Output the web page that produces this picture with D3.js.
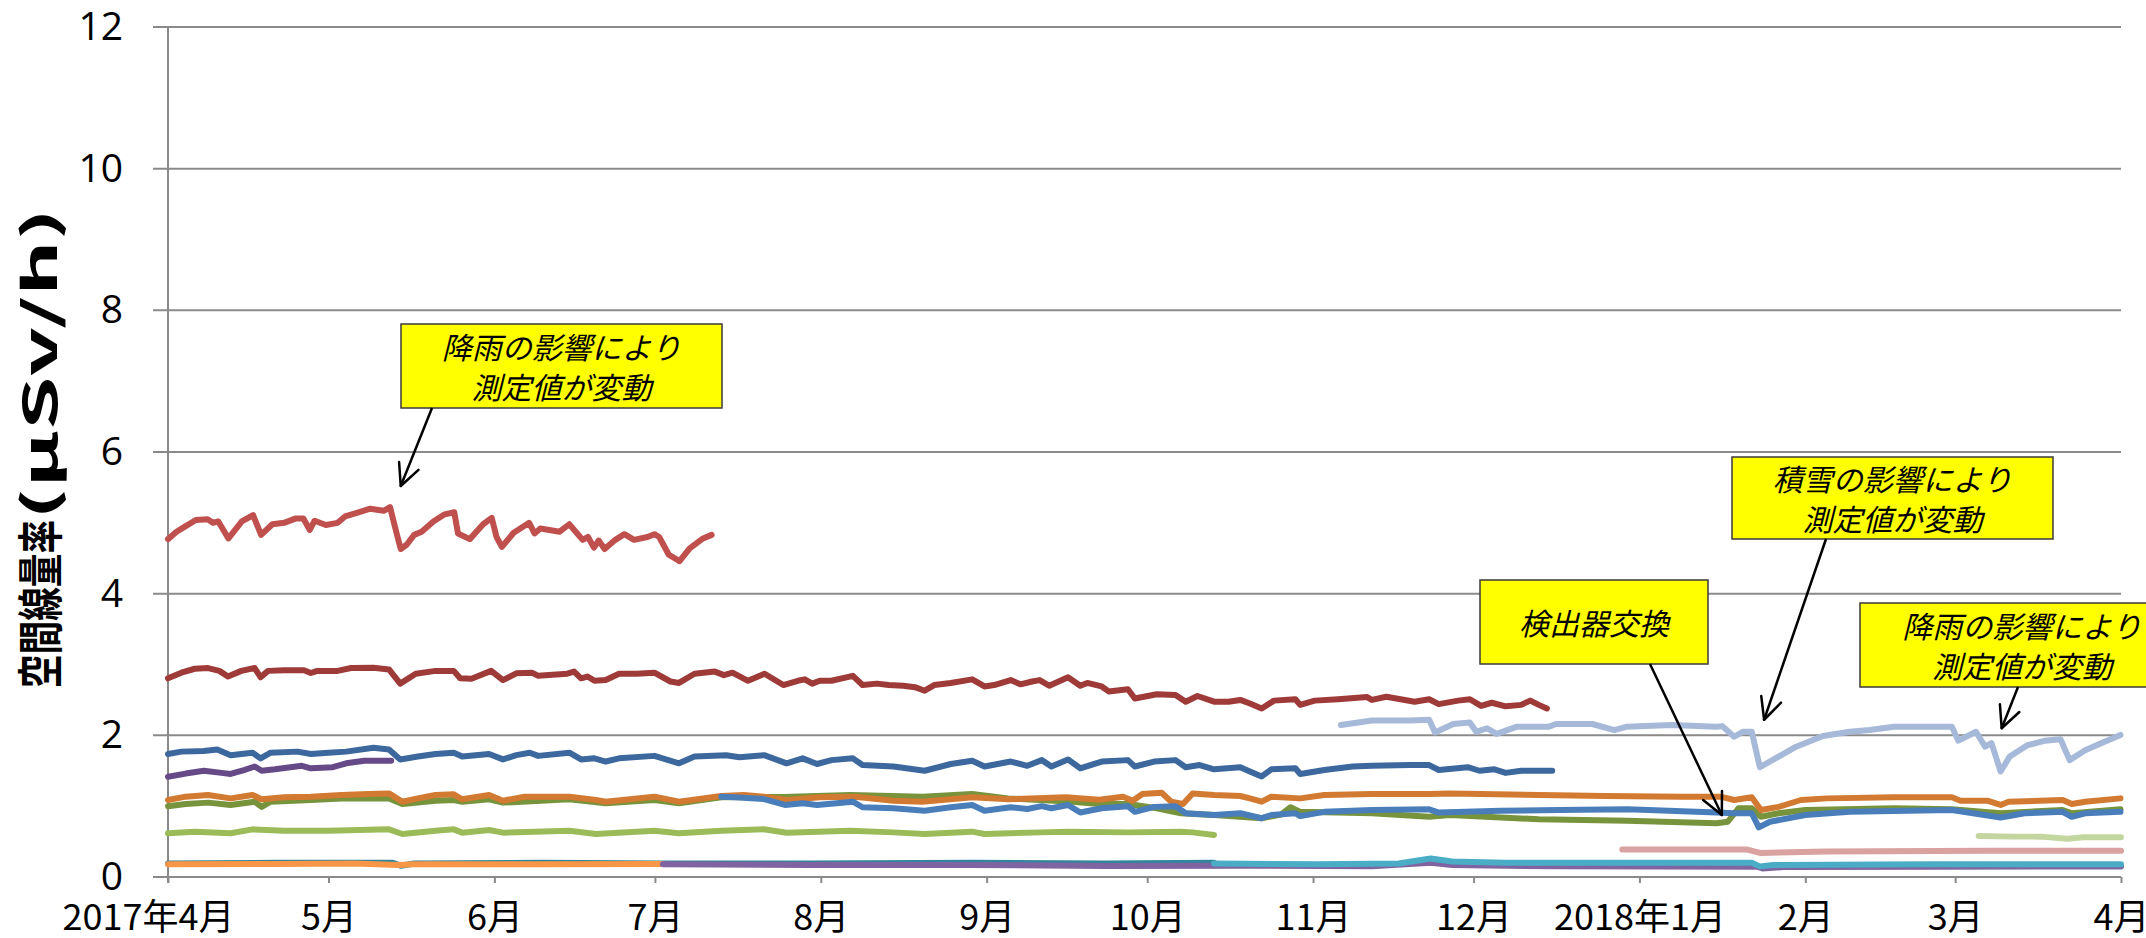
<!DOCTYPE html>
<html>
<head>
<meta charset="utf-8">
<script src="https://cdn.jsdelivr.net/npm/d3@7"></script>
<style>
  body { margin: 0; background: #fff; }
  svg { display: block; }
</style>
</head>
<body>
<div id="chart"></div>
<script>
const w = 2146;
const h = 938;

// ---- data: [days since 2017-04-01, µSv/h] ----
const redHigh = [[0,4.77],[1.6,4.875],[3,4.94],[5.2,5.04],[7.4,5.05],[8.4,5.0],[9.4,5.02],[11.3,4.78],[13.8,5.02],[15.9,5.11],[17.4,4.83],[19.5,4.98],[21.7,5.0],[23.8,5.06],[25.3,5.06],[26.5,4.9],[27.4,5.03],[29.5,4.97],[31.7,5.0],[33.1,5.09],[35.3,5.14],[37.8,5.2],[40.3,5.17],[41.5,5.22],[42.8,4.83],[43.5,4.63],[44.6,4.69],[46,4.83],[47.4,4.875],[49.6,5.02],[51.7,5.12],[53.5,5.15],[54.2,4.85],[56.4,4.77],[58.9,4.98],[60.5,5.07],[61.4,4.8],[62.4,4.66],[64.6,4.86],[67.5,5.0],[68.5,4.85],[69.6,4.92],[73.2,4.875],[75,4.98],[77.5,4.76],[78.5,4.8],[79.6,4.65],[80.5,4.75],[81.6,4.63],[83.6,4.76],[85.3,4.84],[87.1,4.76],[89.6,4.8],[90.9,4.84],[91.8,4.8],[93.6,4.55],[95.6,4.46],[97.5,4.64],[100,4.78],[101.6,4.83]];

const darkRed = [[0,2.805],[2.5,2.885],[5,2.94],[7.5,2.95],[9.6,2.91],[11.2,2.83],[13.7,2.91],[16.2,2.95],[17.3,2.82],[18.7,2.91],[21.7,2.92],[25.4,2.92],[26.7,2.88],[27.9,2.91],[31.7,2.91],[34.2,2.95],[38.4,2.955],[41.3,2.93],[43.4,2.73],[46.3,2.87],[50,2.91],[53.4,2.91],[54.6,2.805],[56.7,2.8],[60.4,2.91],[62.6,2.78],[65.1,2.875],[68,2.885],[69.2,2.84],[74.6,2.87],[75.9,2.9],[77.2,2.805],[78.4,2.83],[79.7,2.77],[81.8,2.78],[84.3,2.87],[87.6,2.87],[90.9,2.885],[93.9,2.76],[95.5,2.74],[98.4,2.87],[102.2,2.9],[103.9,2.85],[105.5,2.885],[108.4,2.77],[111.5,2.87],[115,2.71],[117.7,2.77],[119,2.79],[120.4,2.73],[121.8,2.77],[124,2.77],[128,2.84],[129.8,2.71],[132.5,2.73],[134.7,2.71],[137.4,2.7],[139.6,2.68],[141.4,2.63],[143.2,2.71],[146.3,2.74],[150.3,2.79],[152.6,2.69],[154.4,2.71],[157.5,2.78],[159.3,2.72],[161.5,2.76],[162.9,2.78],[164.7,2.7],[168.2,2.82],[170.5,2.7],[171.8,2.74],[174.5,2.69],[175.8,2.62],[179.4,2.65],[180.7,2.52],[184.8,2.58],[188.3,2.57],[190.2,2.475],[192.4,2.555],[195.5,2.475],[198.2,2.475],[200.4,2.5],[202.2,2.45],[204.4,2.38],[206.7,2.49],[210.7,2.51],[211.6,2.43],[214.3,2.49],[218.7,2.51],[224.1,2.54],[225,2.5],[227.7,2.545],[233,2.475],[235.7,2.51],[237.5,2.44],[241.1,2.49],[243.3,2.51],[245.4,2.415],[247.4,2.46],[250,2.41],[252.9,2.43],[254.6,2.49],[256.2,2.43],[257.7,2.38]];

const darkBlue = [[0,1.737],[2.5,1.77],[6.7,1.78],[9.2,1.8],[11.7,1.72],[15.8,1.755],[17.3,1.675],[19.2,1.755],[24.2,1.77],[26.7,1.737],[30,1.755],[33.3,1.77],[38.4,1.825],[41.3,1.8],[43.4,1.66],[46.7,1.7],[50,1.737],[53.4,1.755],[55,1.7],[60,1.737],[62.6,1.66],[65.1,1.72],[67.6,1.755],[69.2,1.71],[75,1.755],[77.2,1.66],[79.7,1.675],[81.8,1.63],[84.3,1.675],[90.9,1.71],[95.5,1.605],[98.4,1.7],[104.3,1.72],[106.8,1.69],[111.4,1.72],[115.6,1.605],[118.6,1.675],[121.3,1.595],[124,1.65],[128,1.675],[129.8,1.58],[135.6,1.56],[141.4,1.5],[146.3,1.595],[150.3,1.64],[152.6,1.56],[157.5,1.63],[160.6,1.57],[163.3,1.65],[165.1,1.56],[168.2,1.66],[170.5,1.535],[174.5,1.63],[179.4,1.65],[180.7,1.56],[184.3,1.63],[188.3,1.65],[190.2,1.55],[192.8,1.58],[195.5,1.52],[200.4,1.55],[202.2,1.49],[204.4,1.42],[206.2,1.52],[210.7,1.535],[211.6,1.455],[216.1,1.51],[221.4,1.56],[225,1.57],[232.1,1.58],[235.7,1.58],[237.5,1.51],[242.9,1.55],[245.1,1.5],[247.9,1.52],[250,1.47],[252.9,1.5],[258.7,1.5]];

const purpleHigh = [[0,1.415],[3.3,1.46],[6.7,1.5],[10,1.47],[11.7,1.455],[14.2,1.51],[16.2,1.56],[17.5,1.5],[20,1.52],[25,1.57],[26.7,1.535],[30.8,1.55],[33.3,1.605],[36.7,1.64],[41.7,1.64]];

const orange = [[0,1.087],[3.3,1.134],[7.5,1.158],[11.7,1.11],[15.8,1.158],[17.5,1.097],[21.7,1.125],[26.7,1.134],[32.5,1.158],[37.5,1.172],[41.3,1.18],[43.8,1.063],[46.7,1.11],[50,1.158],[53.4,1.167],[55,1.097],[60,1.158],[62.6,1.077],[66.7,1.134],[75,1.134],[80,1.087],[81.8,1.063],[90.9,1.134],[95.5,1.063],[103.4,1.144],[107.6,1.158],[111.4,1.134],[115.6,1.087],[121.8,1.125],[128.4,1.134],[135.6,1.077],[141,1.063],[150.3,1.125],[157,1.097],[167.8,1.125],[174,1.09],[178.5,1.134],[180.3,1.077],[182.1,1.172],[185.7,1.19],[187.5,1.063],[189.7,1.03],[191.5,1.18],[195.5,1.158],[200.4,1.144],[202.2,1.11],[204.4,1.063],[206.2,1.134],[211.6,1.11],[216.1,1.158],[225,1.172],[235.7,1.172],[239.6,1.18],[256.2,1.158],[268.6,1.144],[282.8,1.134],[290.2,1.134],[292.7,1.087],[296,1.125],[297.7,0.946],[301,0.99],[305.2,1.087],[310,1.11],[322.6,1.125],[333.4,1.125],[335,1.077],[340,1.077],[342.5,1.017],[344,1.063],[354.1,1.087],[355.8,1.03],[358.3,1.063],[364.9,1.11]];

const olive = [[0,1.0],[3.3,1.03],[7.5,1.05],[11.7,1.017],[16.2,1.063],[17.5,0.99],[19.2,1.063],[26.7,1.087],[33.3,1.11],[41.3,1.11],[43.8,1.03],[50,1.077],[53.4,1.087],[55,1.063],[60,1.097],[62.6,1.05],[75,1.097],[81.8,1.04],[90.9,1.087],[95.5,1.04],[103.4,1.125],[115,1.13],[127.5,1.158],[141,1.134],[150.3,1.172],[157,1.11],[169.1,1.063],[174,1.03],[179.4,1.03],[184.8,0.97],[189.3,0.9],[195.5,0.875],[204.4,0.83],[208,0.88],[209.8,0.985],[211.6,0.92],[225,0.9],[235.7,0.85],[239.6,0.875],[256.2,0.815],[272.8,0.795],[289.4,0.758],[291.5,0.78],[293.5,0.97],[296,0.97],[297.7,0.85],[301,0.9],[306,0.946],[322.6,0.97],[333.4,0.955],[342.5,0.9],[354.1,0.946],[355.8,0.9],[364.9,0.955]];

const medBlue = [[103.4,1.134],[105.9,1.125],[111.4,1.1],[115.3,1.017],[118.6,1.04],[121.3,1.017],[128,1.063],[129.8,0.985],[135.6,0.97],[141.4,0.936],[146.3,0.985],[150.3,1.017],[152.6,0.936],[157.5,0.985],[160.6,0.96],[163.3,1.0],[165.1,0.97],[168.2,1.017],[170.5,0.91],[174.5,0.97],[179.4,1.0],[180.7,0.92],[184.3,0.99],[188.3,1.0],[190.2,0.9],[195.5,0.875],[200.4,0.9],[204.4,0.83],[206.2,0.875],[210.7,0.9],[211.6,0.86],[216.1,0.92],[225,0.946],[235.7,0.955],[237.5,0.91],[249,0.936],[260,0.946],[272.8,0.955],[289.4,0.91],[292.7,0.9],[296,0.9],[297.3,0.7],[299.4,0.78],[306,0.875],[314.3,0.92],[333.4,0.946],[342.5,0.84],[347,0.9],[354.1,0.92],[355.8,0.85],[358.3,0.9],[364.9,0.92]];

const lightGreen = [[0,0.617],[5,0.64],[11.7,0.617],[15.8,0.673],[21.7,0.654],[30,0.654],[41.3,0.673],[43.8,0.607],[50,0.654],[53.4,0.673],[55,0.626],[60,0.664],[62.6,0.626],[75,0.654],[80,0.607],[90.9,0.654],[95.5,0.617],[103.4,0.654],[111.4,0.673],[115.6,0.626],[127.5,0.654],[135.6,0.63],[141.4,0.607],[150.3,0.64],[152.6,0.607],[163,0.63],[168.2,0.64],[179.4,0.63],[189.3,0.64],[191.5,0.63],[195.5,0.593]];

const lightBlue = [[219.2,2.146],[225,2.21],[232,2.21],[235.7,2.22],[236.8,2.04],[240.2,2.16],[243.3,2.18],[244.5,2.05],[246.5,2.1],[248.3,2.02],[252,2.12],[258,2.12],[259.4,2.16],[266.2,2.16],[270.3,2.075],[272.5,2.12],[281.1,2.146],[289.4,2.12],[290.5,2.13],[292.7,1.98],[294.3,2.05],[296,2.05],[297.5,1.55],[301,1.7],[304.3,1.84],[309.3,1.99],[314.3,2.05],[318,2.075],[322.6,2.12],[333.4,2.12],[334.6,1.925],[337.9,2.05],[339.6,1.84],[340.8,1.89],[342.5,1.49],[344.2,1.7],[347.5,1.86],[350.8,1.925],[353.7,1.945],[355.4,1.65],[358.3,1.79],[361.6,1.9],[364.9,2.005]];

const teal = [[0,0.19],[20,0.2],[42,0.2],[43.5,0.16],[46,0.19],[70,0.2],[92,0.19],[120,0.19],[150,0.2],[175,0.19],[195.5,0.2]];
const orangeLow = [[0,0.18],[20,0.185],[35,0.19],[43,0.17],[46,0.18],[70,0.18],[92.5,0.185]];
const purpleLow = [[92.5,0.18],[120,0.17],[150,0.17],[175,0.155],[200,0.16],[225,0.15],[236,0.2],[240,0.17],[260,0.15],[297,0.145],[298,0.12],[302,0.14],[330,0.145],[365,0.15]];
const cyan = [[195.5,0.19],[215,0.18],[230,0.19],[236,0.26],[240,0.22],[250,0.2],[296,0.2],[297.5,0.15],[300,0.17],[330,0.18],[365,0.18]];
const pink = [[271.8,0.39],[295,0.39],[297.5,0.34],[310,0.36],[340,0.37],[365,0.37]];
const sage = [[338.4,0.58],[345,0.57],[350,0.57],[355,0.54],[358,0.56],[365,0.56]];

const monthLabels = ["2017年4月","5月","6月","7月","8月","9月","10月","11月","12月","2018年1月","2月","3月","4月"];
const yTicks = [0, 2, 4, 6, 8, 10, 12];

// drawing order, bottom first
const series = [
    { data: teal, color: "#31859C" },
    { data: orangeLow, color: "#F79646" },
    { data: purpleLow, color: "#8064A2" },
    { data: cyan, color: "#4BACC6" },
    { data: pink, color: "#D9A19F" },
    { data: sage, color: "#C4D6A0" },
    { data: lightGreen, color: "#9BBB59" },
    { data: olive, color: "#77933C" },
    { data: orange, color: "#D27A32" },
    { data: medBlue, color: "#4A7EBB" },
    { data: purpleHigh, color: "#664A88" },
    { data: darkBlue, color: "#3C689E" },
    { data: lightBlue, color: "#A6B9D8" },
    { data: darkRed, color: "#9E3B38" },
    { data: redHigh, color: "#C0504D" }
];

const start = Date.UTC(2017, 3, 1);
const toDate = (d) => new Date(start + d * 864e5);

const x = d3.scaleUtc()
    .domain([new Date(start), new Date(Date.UTC(2018, 3, 1))])
    .range([168, 2121]);

const y = d3.scaleLinear()
    .domain([0, 12])
    .range([877, 27]);

const svg = d3.select("#chart")
    .append("svg")
    .attr("width", w)
    .attr("height", h)
    .style("background", "#fff");

const gridColor = "#8a8a8a";

// gridlines
svg.append("g")
    .selectAll("line")
    .data(yTicks)
    .enter()
    .append("line")
    .attr("x1", 153)
    .attr("x2", x.range()[1])
    .attr("y1", d => y(d))
    .attr("y2", d => y(d))
    .attr("stroke", gridColor)
    .attr("stroke-width", 2);

// y axis
const yAxis = svg.append("g")
    .attr("transform", "translate(168,0)")
    .call(d3.axisLeft(y).tickValues(yTicks).tickSize(0).tickPadding(45).tickSizeOuter(0));
yAxis.select(".domain").remove();
yAxis.selectAll("text")
    .attr("font-family", "'Open Sans', sans-serif")
    .attr("font-size", 39)
    .attr("fill", "#000");

svg.append("line")
    .attr("x1", 168).attr("x2", 168)
    .attr("y1", y(12)).attr("y2", y(0) + 6)
    .attr("stroke", gridColor)
    .attr("stroke-width", 2);

// x axis
const months = d3.utcMonth.range(new Date(start), new Date(Date.UTC(2018, 3, 2)));
const xAxis = svg.append("g")
    .attr("transform", "translate(0," + y(0) + ")")
    .call(d3.axisBottom(x).tickValues(months).tickSize(6).tickSizeOuter(0)
        .tickFormat((d, i) => monthLabels[i]));
xAxis.select(".domain").remove();
xAxis.selectAll(".tick line")
    .attr("stroke", gridColor)
    .attr("stroke-width", 2);
xAxis.selectAll("text")
    .attr("font-family", "'Noto Sans CJK JP', sans-serif")
    .attr("font-size", 36)
    .attr("fill", "#000")
    .attr("y", 53)
    .attr("dy", 0)
    .attr("dx", (d, i) => i === 0 ? -20 : 0);

// y title: CJK part is set narrow, unit part wide, like the original
const title = svg.append("text")
    .attr("transform", "translate(37,448) rotate(-90)")
    .attr("text-anchor", "middle")
    .attr("dominant-baseline", "central")
    .attr("font-family", "'Noto Sans CJK JP', sans-serif")
    .attr("font-weight", "bold")
    .attr("font-size", 46);
title.append("tspan")
    .attr("textLength", 168)
    .attr("lengthAdjust", "spacingAndGlyphs")
    .text("空間線量率");
title.append("tspan")
    .attr("textLength", 312)
    .attr("lengthAdjust", "spacingAndGlyphs")
    .text("(μSv/h)");

// lines
const line = d3.line()
    .x(d => x(toDate(d[0])))
    .y(d => y(d[1]));

svg.append("g")
    .selectAll("path")
    .data(series)
    .enter()
    .append("path")
    .attr("d", d => line(d.data))
    .attr("fill", "none")
    .attr("stroke", d => d.color)
    .attr("stroke-width", 6)
    .attr("stroke-linejoin", "round")
    .attr("stroke-linecap", "round");

// annotations
const notes = [
    { lines: ["降雨の影響により", "測定値が変動"], box: [401, 324, 321, 84], from: [432, 408], tip: [43.5, 5.52] },
    { lines: ["積雪の影響により", "測定値が変動"], box: [1732, 457, 321, 82], from: [1826, 539], tip: [298.3, 2.22] },
    { lines: ["検出器交換"], box: [1480, 580, 228, 84], from: [1650, 664], tip: [290.4, 0.875] },
    { lines: ["降雨の影響により", "測定値が変動"], box: [1860, 603, 324, 84], from: [2018, 687], tip: [342.7, 2.10] }
];

const ann = svg.append("g");

notes.forEach((n) => {
    let [bx, by, bw, bh] = n.box;
    ann.append("rect")
        .attr("x", bx).attr("y", by)
        .attr("width", bw).attr("height", bh)
        .attr("fill", "#FFFF00")
        .attr("stroke", "#3a3a3a")
        .attr("stroke-width", 1.5);

    let cx = bx + bw / 2;
    let lh = 40;
    let y0 = by + bh / 2 - (n.lines.length - 1) * lh / 2;
    n.lines.forEach((t, i) => {
        ann.append("text")
            .attr("x", cx)
            .attr("y", y0 + i * lh)
            .attr("text-anchor", "middle")
            .attr("dominant-baseline", "central")
            .attr("font-family", "'Noto Sans CJK JP', sans-serif")
            .attr("font-style", "italic")
            .attr("font-size", 30)
            .attr("fill", "#000")
            .text(t);
    });

    // arrow with open head
    let tx = x(toDate(n.tip[0]));
    let ty = y(n.tip[1]);
    let [fx, fy] = n.from;
    let ang = Math.atan2(ty - fy, tx - fx);
    let hl = 24, spread = 0.45;
    ann.append("line")
        .attr("x1", fx).attr("y1", fy)
        .attr("x2", tx).attr("y2", ty)
        .attr("stroke", "#000").attr("stroke-width", 2.5);
    [-spread, spread].forEach((s) => {
        ann.append("line")
            .attr("x1", tx).attr("y1", ty)
            .attr("x2", tx - hl * Math.cos(ang + s))
            .attr("y2", ty - hl * Math.sin(ang + s))
            .attr("stroke", "#000").attr("stroke-width", 2.5)
            .attr("stroke-linecap", "round");
    });
});
</script>
</body>
</html>
